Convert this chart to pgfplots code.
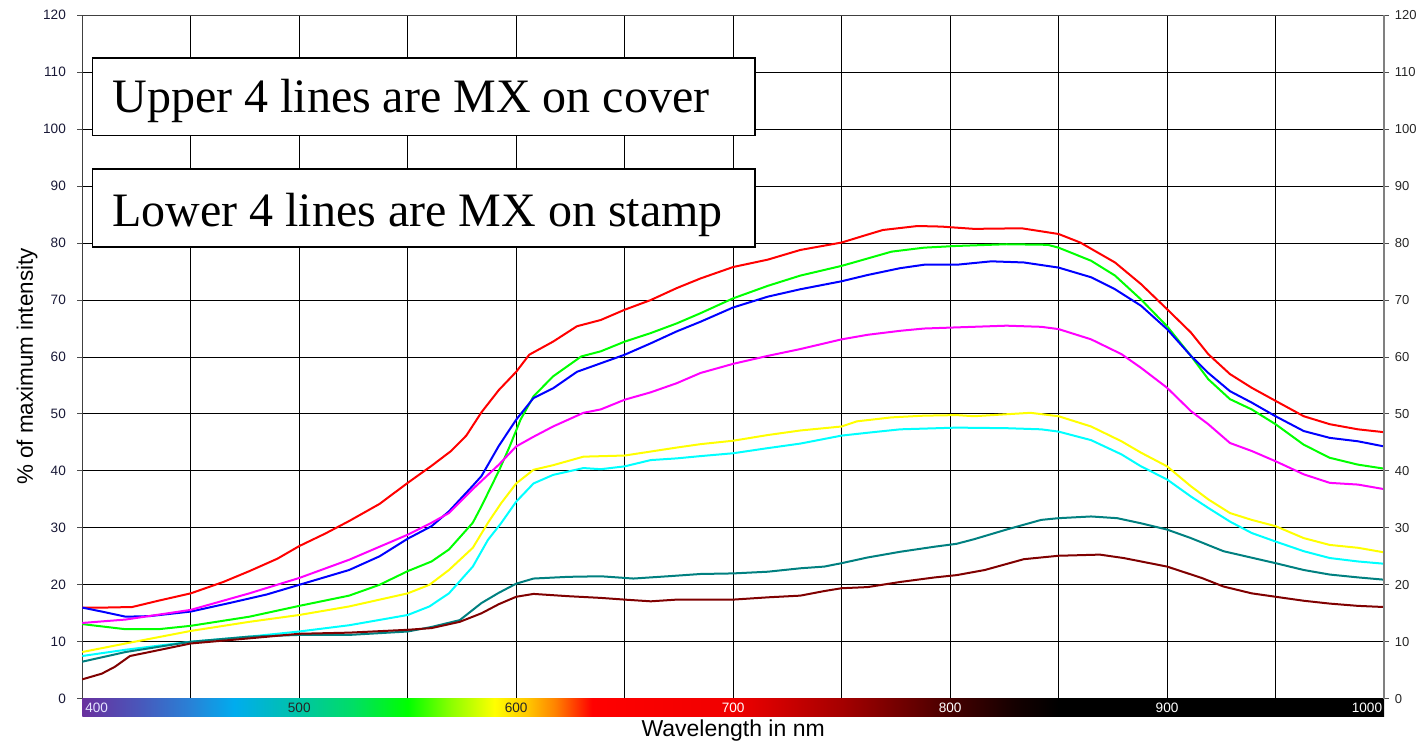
\documentclass[border=0pt]{standalone}
\usepackage{fontspec}
\setmainfont{Liberation Sans}
\newfontfamily\timesf{Liberation Serif}
\usepackage{pgfplots}
\pgfplotsset{compat=1.18}
\definecolor{cred}{RGB}{255,0,0}
\definecolor{cgreen}{RGB}{0,255,0}
\definecolor{cblue}{RGB}{0,0,255}
\definecolor{cmag}{RGB}{255,0,255}
\definecolor{cyel}{RGB}{255,255,0}
\definecolor{ccyan}{RGB}{0,255,255}
\definecolor{cteal}{RGB}{0,128,128}
\definecolor{cmaroon}{RGB}{128,0,0}
\definecolor{tickc}{RGB}{25,25,55}
\definecolor{s400}{RGB}{105,48,158}
\definecolor{s425}{RGB}{75,85,185}
\definecolor{s450}{RGB}{40,130,215}
\definecolor{s470}{RGB}{0,172,238}
\definecolor{s500}{RGB}{0,196,165}
\definecolor{s525}{RGB}{0,222,100}
\definecolor{s550}{RGB}{0,255,0}
\definecolor{s570}{RGB}{140,255,0}
\definecolor{s590}{RGB}{255,255,0}
\definecolor{s605}{RGB}{255,200,0}
\definecolor{s618}{RGB}{255,130,0}
\definecolor{s635}{RGB}{255,0,0}
\definecolor{s700}{RGB}{240,0,0}
\definecolor{s750}{RGB}{165,0,0}
\definecolor{s800}{RGB}{70,0,0}
\definecolor{s830}{RGB}{20,0,0}
\definecolor{s850}{RGB}{0,0,0}
\pgfdeclarehorizontalshading{spectrum}{100bp}{color(0bp)=(s400); color(25bp)=(s400); color(27.083bp)=(s425); color(29.167bp)=(s450); color(30.833bp)=(s470); color(33.333bp)=(s500); color(35.417bp)=(s525); color(37.5bp)=(s550); color(39.167bp)=(s570); color(40.833bp)=(s590); color(42.083bp)=(s605); color(43.167bp)=(s618); color(44.583bp)=(s635); color(50bp)=(s700); color(54.167bp)=(s750); color(58.333bp)=(s800); color(60.833bp)=(s830); color(62.5bp)=(s850); color(75bp)=(s850); color(100bp)=(s850)}
\begin{document}
\begin{tikzpicture}
\useasboundingbox (-41.15pt,-21.15pt) rectangle (668.85pt,349.35pt);
\begin{axis}[
  scale only axis, width=650.85pt, height=341.7pt,
  xmin=400, xmax=1000, ymin=0, ymax=120,
  xtick={400,450,...,1000}, xticklabels={},
  ytick={0,10,...,120},
  grid=major, grid style={black, line width=0.5pt},
  xtick style={draw=none},
  ytick style={black!70, line width=0.5pt},
  ytick pos=left, tick align=outside, major tick length=2.5pt,
  yticklabel style={font=\fontsize{6.8}{8}\selectfont, text=tickc, xshift=-2.2pt},
  /pgf/number format/assume math mode=true,
  axis line style={black!75, line width=0.7pt},
  clip=false,
  xlabel={Wavelength in nm},
  xlabel style={at={(axis description cs:0.5,0)}, anchor=base, yshift=-18.65pt, font=\fontsize{11.5}{13}\selectfont},
  ylabel={\% of maximum intensity},
  ylabel style={at={(axis description cs:-0.0379,0.486)}, anchor=base, font=\fontsize{11.2}{13}\selectfont},
]
% spectrum bar
\shade[shading=spectrum] (axis cs:400,0) rectangle (axis cs:1000,-3.04);
\begin{scope}[font=\fontsize{6.8}{8}\selectfont]
\node[anchor=west, text=white!90!blue, inner sep=0pt] at (axis cs:401.2,-1.58) {400};
\node[text=black!85] at (axis cs:500,-1.58) {500};
\node[text=black!85] at (axis cs:600,-1.58) {600};
\node[text=white] at (axis cs:700,-1.58) {700};
\node[text=white] at (axis cs:800,-1.58) {800};
\node[text=white] at (axis cs:900,-1.58) {900};
\node[anchor=east, text=white, inner sep=0pt] at (axis cs:999.3,-1.58) {1000};
\end{scope}
% red
\addplot[cred, line width=1pt] coordinates {(400,16.0)(410,16.0)(423,16.1)(435,17.2)(450,18.5)(465,20.5)(477,22.4)(490,24.6)(500,26.8)(512,29.0)(523,31.2)(537,34.2)(550,37.9)(561,40.9)(570,43.5)(577,46.2)(584,50.3)(592,54.2)(600,57.4)(606,60.4)(617,62.7)(628,65.4)(639,66.5)(650,68.3)(662,70.0)(674,72.1)(685,73.8)(700,75.8)(716,77.1)(731,78.8)(750,80.1)(762,81.5)(769,82.3)(785,83.0)(796,82.9)(811,82.5)(833,82.6)(850,81.6)(860,80.1)(876,76.6)(888,72.8)(900,68.4)(911,64.3)(919,60.5)(929,57.0)(939,54.6)(950,52.3)(963,49.6)(975,48.2)(988,47.3)(1000,46.8)};
% green
\addplot[cgreen, line width=1pt] coordinates {(400,13.1)(420,12.2)(435,12.2)(450,12.8)(477,14.4)(500,16.3)(523,18.1)(537,20.0)(550,22.4)(561,24.1)(569,26.2)(580,30.9)(584,33.8)(592,40.0)(597,44.3)(602,49.0)(608,53.1)(617,56.6)(630,60.1)(639,61.0)(650,62.7)(662,64.2)(674,65.9)(685,67.7)(700,70.3)(716,72.5)(731,74.3)(750,76.0)(762,77.3)(773,78.5)(788,79.2)(803,79.5)(826,79.8)(845,79.7)(850,79.2)(865,76.9)(876,74.3)(888,70.1)(900,65.4)(911,60.2)(919,56.1)(929,52.6)(939,50.8)(950,48.2)(963,44.6)(975,42.3)(988,41.1)(1000,40.4)};
% blue
\addplot[cblue, line width=1pt] coordinates {(400,16.0)(409,15.3)(420,14.4)(431,14.5)(450,15.3)(469,16.9)(485,18.3)(500,20.0)(523,22.6)(537,25.0)(550,28.1)(561,30.3)(569,32.9)(580,37.4)(584,39.1)(592,44.4)(600,49.0)(608,52.8)(617,54.5)(628,57.4)(639,58.9)(650,60.4)(662,62.4)(674,64.5)(685,66.2)(700,68.7)(716,70.6)(731,71.9)(750,73.3)(762,74.4)(777,75.6)(788,76.2)(803,76.2)(819,76.8)(834,76.6)(850,75.7)(865,74.0)(876,71.9)(888,69.0)(900,64.9)(911,60.2)(919,57.2)(929,54.0)(939,52.0)(950,49.6)(963,47.0)(975,45.8)(988,45.2)(1000,44.3)};
% magenta
\addplot[cmag, line width=1pt] coordinates {(400,13.3)(420,13.9)(450,15.6)(477,18.5)(500,21.2)(523,24.4)(550,28.8)(561,30.9)(569,32.6)(580,36.8)(592,41.1)(600,44.3)(608,46.0)(617,47.8)(631,50.2)(639,50.8)(650,52.5)(662,53.8)(674,55.4)(685,57.2)(700,58.8)(716,60.2)(731,61.4)(750,63.1)(762,63.9)(777,64.6)(788,65.0)(803,65.2)(826,65.5)(842,65.3)(850,64.9)(865,63.1)(879,60.5)(888,58.1)(900,54.6)(911,50.5)(919,48.2)(929,44.9)(939,43.5)(950,41.7)(963,39.4)(975,37.9)(988,37.6)(1000,36.8)};
% yellow
\addplot[cyel, line width=1pt] coordinates {(400,8.2)(420,9.7)(450,11.9)(477,13.5)(500,14.7)(523,16.2)(550,18.5)(560,20.0)(569,22.6)(580,26.5)(587,30.9)(593,34.3)(600,37.8)(608,40.2)(617,41.0)(631,42.5)(650,42.7)(662,43.4)(674,44.1)(685,44.7)(700,45.3)(716,46.3)(731,47.1)(750,47.8)(757,48.7)(773,49.4)(788,49.7)(803,49.8)(811,49.6)(837,50.2)(850,49.6)(865,47.8)(879,45.2)(888,43.2)(900,40.8)(911,37.3)(919,35.0)(929,32.6)(939,31.4)(950,30.3)(963,28.2)(975,27.0)(988,26.5)(1000,25.7)};
% cyan
\addplot[ccyan, line width=1pt] coordinates {(400,7.5)(420,8.6)(450,10.0)(477,10.9)(500,11.8)(523,12.9)(550,14.7)(560,16.2)(569,18.5)(580,23.2)(587,27.9)(593,30.8)(600,34.6)(608,37.8)(617,39.3)(631,40.5)(639,40.3)(650,40.8)(662,41.9)(674,42.2)(685,42.6)(700,43.1)(716,44.0)(731,44.8)(750,46.2)(762,46.7)(777,47.3)(803,47.6)(826,47.5)(842,47.3)(850,46.9)(865,45.4)(879,42.9)(888,40.8)(900,38.5)(911,35.5)(919,33.5)(929,31.1)(939,29.1)(950,27.6)(963,25.9)(975,24.7)(988,24.1)(1000,23.7)};
% teal
\addplot[cteal, line width=1pt] coordinates {(400,6.5)(420,8.2)(450,10.0)(477,10.9)(500,11.2)(523,11.2)(550,11.8)(561,12.6)(574,13.8)(584,16.8)(592,18.6)(600,20.2)(608,21.1)(624,21.4)(639,21.5)(654,21.1)(670,21.5)(685,21.9)(700,22.0)(716,22.3)(731,22.9)(742,23.2)(750,23.8)(762,24.8)(777,25.8)(793,26.7)(803,27.2)(811,28.0)(826,29.7)(842,31.4)(850,31.7)(865,32.0)(877,31.7)(888,30.8)(900,29.7)(911,28.2)(926,25.9)(950,23.8)(963,22.6)(975,21.8)(988,21.3)(1000,20.9)};
% maroon
\addplot[cmaroon, line width=1pt] coordinates {(400,3.4)(409,4.4)(415,5.6)(422,7.5)(431,8.2)(450,9.7)(477,10.6)(500,11.4)(523,11.6)(550,12.1)(561,12.4)(574,13.5)(584,15.0)(592,16.6)(600,17.9)(608,18.4)(624,18.0)(639,17.7)(650,17.4)(662,17.1)(674,17.4)(700,17.4)(716,17.8)(731,18.1)(742,18.9)(750,19.4)(762,19.6)(777,20.5)(793,21.3)(803,21.7)(816,22.6)(834,24.5)(850,25.1)(869,25.3)(880,24.7)(900,23.2)(916,21.2)(926,19.7)(939,18.5)(950,17.9)(963,17.2)(975,16.7)(988,16.3)(1000,16.1)};
% text boxes
\draw[fill=white, line width=0.7pt] (axis cs:404.6,112.5) rectangle (axis cs:710.1,98.9);
\node[anchor=base west, inner sep=0pt, font=\timesf\fontsize{24}{28}\selectfont] at (axis cs:413.7,102.85) {Upper 4 lines are MX on cover};
\draw[fill=white, line width=0.7pt] (axis cs:404.6,93.0) rectangle (axis cs:710.1,79.3);
\node[anchor=base west, inner sep=0pt, font=\timesf\fontsize{24}{28}\selectfont] at (axis cs:413.7,82.9) {Lower 4 lines are MX on stamp};
\end{axis}
\begin{axis}[
  scale only axis, width=650.85pt, height=341.7pt,
  xmin=400, xmax=1000, ymin=0, ymax=120,
  axis x line=none, axis y line*=right,
  ytick={0,10,...,120},
  tick align=outside, major tick length=2.5pt,
  ytick style={black!70, line width=0.5pt},
  yticklabel style={font=\fontsize{6.5}{8}\selectfont, text=black!85, xshift=-0.6pt},
  /pgf/number format/assume math mode=true,
  axis line style={black!50, line width=0.9pt},
]
\addplot[draw=none] coordinates {(400,0)(1000,0)};
\end{axis}
\end{tikzpicture}
\end{document}
